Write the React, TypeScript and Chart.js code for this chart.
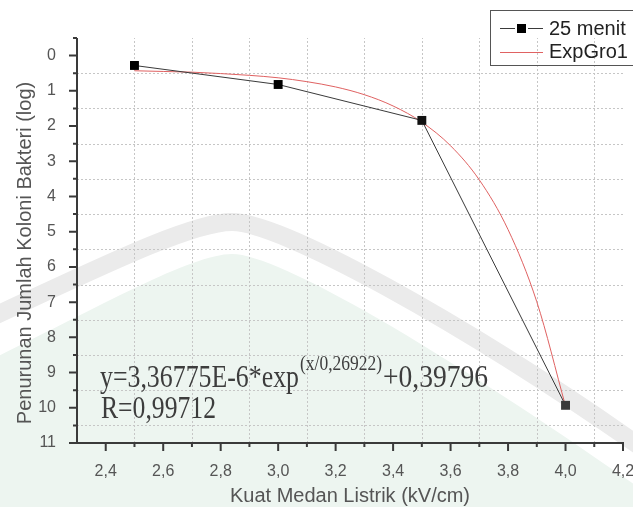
import React, { useEffect, useRef } from "react";
import { Chart, registerables } from "chart.js";

Chart.register(...registerables);

// ---- data ----
const seriesName = "25 menit";
const fitName = "ExpGro1";
const xValues = [2.5, 3.0, 3.5, 4.0];
const yValues = [0.28, 0.82, 1.84, 9.93];

const fitX = [2.5, 2.6, 2.7, 2.8, 2.9, 3.0, 3.1, 3.2, 3.3, 3.4, 3.5, 3.6, 3.7, 3.8, 3.9, 4.0];
const fitY = [0.43, 0.45, 0.47, 0.51, 0.56, 0.63, 0.74, 0.89, 1.11, 1.43, 1.89, 2.56, 3.53, 4.94, 6.99, 9.95];

const xTickValues = [2.4, 2.6, 2.8, 3.0, 3.2, 3.4, 3.6, 3.8, 4.0, 4.2];
const xTickLabels = ["2,4", "2,6", "2,8", "3,0", "3,2", "3,4", "3,6", "3,8", "4,0", "4,2"];
const xMinorValues = [2.5, 2.7, 2.9, 3.1, 3.3, 3.5, 3.7, 3.9, 4.1];

const yTickValues = [0, 1, 2, 3, 4, 5, 6, 7, 8, 9, 10, 11];
const yTickLabels = ["0", "1", "2", "3", "4", "5", "6", "7", "8", "9", "10", "11"];
const yMinorValues = [-0.5, 0.5, 1.5, 2.5, 3.5, 4.5, 5.5, 6.5, 7.5, 8.5, 9.5, 10.5];

const xTitle = "Kuat Medan Listrik (kV/cm)";
const yTitle = "Penurunan Jumlah Koloni Bakteri (log)";
const eqMain = "y=3,36775E-6*exp";
const eqSup = "(x/0,26922)";
const eqTail = "+0,39796";
const eqR = "R=0,99712";

const SANS = "'Liberation Sans', Arial, sans-serif";
const SERIF = "'Liberation Serif', 'Times New Roman', serif";
const AXIS_COLOR = "#3a3a3a";
const TEXT_GRAY = "#555555";
const FIT_COLOR = "#e06262";
const LINE_COLOR = "#3a3a3a";

// draw text squeezed horizontally into a given width (the reference uses a condensed serif)
function fitText(ctx: CanvasRenderingContext2D, text: string, x: number, y: number, w: number) {
  const m = ctx.measureText(text).width;
  ctx.save();
  ctx.translate(x, y);
  ctx.scale(w / m, 1);
  ctx.fillText(text, 0, 0);
  ctx.restore();
}

const decor = {
  id: "decor",
  beforeDraw(chart: any) {
    const ctx = chart.ctx as CanvasRenderingContext2D;
    ctx.save();
    ctx.fillStyle = "#ffffff";
    ctx.fillRect(0, 0, chart.width, chart.height);
    // faint watermark
    ctx.fillStyle = "#edf5f0";
    ctx.beginPath();
    ctx.moveTo(-10, 360);
    ctx.bezierCurveTo(90, 312, 190, 254, 232, 254);
    ctx.bezierCurveTo(280, 254, 450, 355, 645, 492);
    ctx.lineTo(645, 512);
    ctx.lineTo(-10, 512);
    ctx.closePath();
    ctx.fill();
    ctx.strokeStyle = "#ebebeb";
    ctx.lineWidth = 18;
    ctx.beginPath();
    ctx.moveTo(-10, 318);
    ctx.bezierCurveTo(90, 272, 190, 222, 232, 222);
    ctx.bezierCurveTo(280, 222, 460, 320, 645, 450);
    ctx.stroke();
    ctx.restore();
  },
  beforeDatasetsDraw(chart: any) {
    const ctx = chart.ctx as CanvasRenderingContext2D;
    const xs = chart.scales.x;
    const ys = chart.scales.y;
    const { left, right, top, bottom } = chart.chartArea;
    ctx.save();
    ctx.strokeStyle = "#c6c6c6";
    ctx.lineWidth = 1;
    ctx.setLineDash([2, 2]);
    for (const v of xMinorValues) {
      const px = Math.round(xs.getPixelForValue(v)) + 0.5;
      ctx.beginPath();
      ctx.moveTo(px, bottom);
      ctx.lineTo(px, top);
      ctx.stroke();
    }
    for (const v of yMinorValues) {
      if (v <= ys.min) continue;
      const py = Math.round(ys.getPixelForValue(v)) + 0.5;
      ctx.beginPath();
      ctx.moveTo(left, py);
      ctx.lineTo(right, py);
      ctx.stroke();
    }
    ctx.restore();
  },
  afterDatasetsDraw(chart: any) {
    const ctx = chart.ctx as CanvasRenderingContext2D;
    const xs = chart.scales.x;
    const ys = chart.scales.y;
    const { left, right, top, bottom } = chart.chartArea;
    ctx.save();
    ctx.setLineDash([]);
    ctx.strokeStyle = AXIS_COLOR;
    ctx.lineWidth = 2;
    // axes
    ctx.beginPath();
    ctx.moveTo(left, top);
    ctx.lineTo(left, bottom + 1);
    ctx.moveTo(left - 1, bottom);
    ctx.lineTo(right + 1, bottom);
    ctx.stroke();
    // ticks
    ctx.beginPath();
    for (const v of xTickValues) {
      const px = xs.getPixelForValue(v);
      ctx.moveTo(px, bottom);
      ctx.lineTo(px, bottom + 8);
    }
    for (const v of xMinorValues) {
      const px = xs.getPixelForValue(v);
      ctx.moveTo(px, bottom);
      ctx.lineTo(px, bottom + 4);
    }
    for (const v of yTickValues) {
      const py = ys.getPixelForValue(v);
      ctx.moveTo(left, py);
      ctx.lineTo(left - 8, py);
    }
    for (const v of yMinorValues) {
      const py = ys.getPixelForValue(v);
      ctx.moveTo(left, py);
      ctx.lineTo(left - 4, py);
    }
    ctx.stroke();

    // axis titles
    ctx.fillStyle = TEXT_GRAY;
    ctx.font = `20px ${SANS}`;
    ctx.textAlign = "center";
    ctx.textBaseline = "alphabetic";
    ctx.fillText(xTitle, (left + right) / 2, 502);
    ctx.save();
    ctx.translate(31, 253);
    ctx.rotate(-Math.PI / 2);
    ctx.fillText(yTitle, 0, 0);
    ctx.restore();

    // equation
    ctx.fillStyle = "#3d3d3d";
    ctx.textAlign = "left";
    ctx.font = `32px ${SERIF}`;
    fitText(ctx, eqMain, 100, 387, 199);
    ctx.font = `20px ${SERIF}`;
    fitText(ctx, eqSup, 300, 370, 82);
    ctx.font = `32px ${SERIF}`;
    fitText(ctx, eqTail, 383, 387, 105);
    fitText(ctx, eqR, 101, 418, 115);

    // legend
    ctx.strokeStyle = "#555";
    ctx.lineWidth = 1;
    ctx.strokeRect(490.5, 10.5, 160, 55);
    ctx.strokeStyle = LINE_COLOR;
    ctx.beginPath();
    ctx.moveTo(500, 28.5);
    ctx.lineTo(515, 28.5);
    ctx.moveTo(528, 28.5);
    ctx.lineTo(543, 28.5);
    ctx.stroke();
    ctx.fillStyle = "#000";
    ctx.fillRect(517, 24, 9, 9);
    ctx.strokeStyle = FIT_COLOR;
    ctx.beginPath();
    ctx.moveTo(500, 52.5);
    ctx.lineTo(543, 52.5);
    ctx.stroke();
    ctx.fillStyle = "#222";
    ctx.font = `20px ${SANS}`;
    ctx.textBaseline = "middle";
    ctx.fillText(seriesName, 549, 29);
    ctx.fillText(fitName, 549, 52);
    ctx.restore();
  },
};

export default function App() {
  const ref = useRef<HTMLCanvasElement>(null);
  useEffect(() => {
    const canvas = ref.current!;
    const chart = new Chart(canvas, {
      type: "scatter",
      data: {
        datasets: [
          {
            label: seriesName,
            data: xValues.map((x, i) => ({ x, y: yValues[i] })),
            showLine: true,
            borderColor: LINE_COLOR,
            borderWidth: 1,
            pointStyle: "rect",
            pointRadius: 6.3,
            pointBackgroundColor: ["#000", "#000", "#111", "#3a3a3a"],
            pointBorderColor: "#000",
            pointBorderWidth: 0,
            order: 0,
          },
          {
            label: fitName,
            data: fitX.map((x, i) => ({ x, y: fitY[i] })),
            showLine: true,
            borderColor: FIT_COLOR,
            borderWidth: 1,
            pointRadius: 0,
            cubicInterpolationMode: "monotone",
            order: 1,
          },
        ],
      },
      options: {
        responsive: false,
        animation: false,
        devicePixelRatio: 1,
        events: [],
        layout: { padding: { top: 38, right: 10, left: 0, bottom: 0 } },
        plugins: {
          legend: { display: false },
          tooltip: { enabled: false },
          title: { display: false },
        },
        scales: {
          x: {
            type: "linear",
            min: 2.3,
            max: 4.2,
            grid: { display: false },
            border: { display: false },
            afterBuildTicks: (s: any) => {
              s.ticks = xTickValues.map((v) => ({ value: v }));
            },
            afterFit: (s: any) => {
              s.height = 64;
              s.paddingLeft = 0;
              s.paddingRight = 0;
            },
            ticks: {
              autoSkip: false,
              maxRotation: 0,
              minRotation: 0,
              padding: 11,
              color: TEXT_GRAY,
              font: { family: SANS, size: 16 },
              callback: (_v: any, i: number) => xTickLabels[i],
            },
          },
          y: {
            type: "linear",
            reverse: true,
            min: -0.5,
            max: 11,
            grid: { display: false },
            border: { display: false },
            afterBuildTicks: (s: any) => {
              s.ticks = yTickValues.map((v) => ({ value: v }));
            },
            afterFit: (s: any) => {
              s.width = 77;
              s.paddingTop = 0;
              s.paddingBottom = 0;
            },
            ticks: {
              autoSkip: false,
              padding: 13,
              color: TEXT_GRAY,
              font: { family: SANS, size: 16 },
              callback: (_v: any, i: number) => yTickLabels[i],
            },
          },
        },
      },
      plugins: [decor],
    } as any);
    return () => chart.destroy();
  }, []);
  return (
    <div style={{ position: "absolute", left: 0, top: 0, width: 633, height: 507 }}>
      <canvas ref={ref} width={633} height={507} style={{ display: "block", width: 633, height: 507 }} />
    </div>
  );
}
